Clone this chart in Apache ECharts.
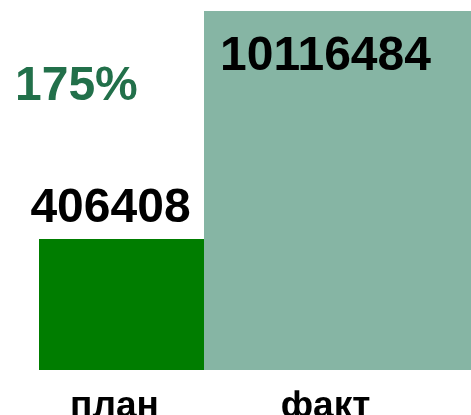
<!DOCTYPE html>
<html><head><meta charset="utf-8">
<script src="https://cdn.jsdelivr.net/npm/echarts@6/dist/echarts.min.js"></script>
<style>html,body{margin:0;padding:0;background:#fff}#c{width:471px;height:415px}</style>
</head><body><div id="c"></div>
<script>
var categories = ['план', 'факт'];
var values = [406408, 10116484];
var percentText = '175%';
var barColors = ['#007d00', '#86b5a4'];

var chart = echarts.init(document.getElementById('c'));
var font = '"Liberation Sans", Arial, sans-serif';
function yAx(i){ return {type:'log', gridIndex:i, min:64000, max:10116484, show:false}; }
var option = {
  animation:false,
  grid:[
    {left:39, width:165, top:11, bottom:45, containLabel:false, outerBoundsMode:'none'},
    {left:204, width:267, top:11, bottom:45, containLabel:false, outerBoundsMode:'none'}
  ],
  xAxis:[
    {type:'category', gridIndex:0, data:[categories[0]], axisLine:{show:false}, axisTick:{show:false},
     axisLabel:{margin:18, fontSize:37, fontWeight:'bold', color:'#000', fontFamily:font, padding:[0,14,0,0]}},
    {type:'category', gridIndex:1, data:[categories[1]], axisLine:{show:false}, axisTick:{show:false},
     axisLabel:{margin:18, fontSize:37, fontWeight:'bold', color:'#000', fontFamily:font, padding:[0,24,0,0]}}
  ],
  yAxis:[yAx(0), yAx(1)],
  series:[
    {type:'bar', xAxisIndex:0, yAxisIndex:0, data:[values[0]], barWidth:'100%',
     itemStyle:{color:barColors[0]},
     label:{show:true, position:'top', distance:6, offset:[-11,0], fontSize:48, fontWeight:'bold', color:'#000', fontFamily:font}},
    {type:'bar', xAxisIndex:1, yAxisIndex:1, data:[values[1]], barWidth:'100%',
     itemStyle:{color:barColors[1]},
     label:{show:true, position:'insideTop', distance:22, offset:[-12,0], fontSize:48, fontWeight:'bold', color:'#000', fontFamily:font}}
  ],
  graphic:[
    {type:'text', left:15, top:63, style:{text:percentText, fontSize:48, fontWeight:'bold', fill:'#22704a', font:'bold 48px ' + font}}
  ]
};
chart.setOption(option);
</script></body></html>
